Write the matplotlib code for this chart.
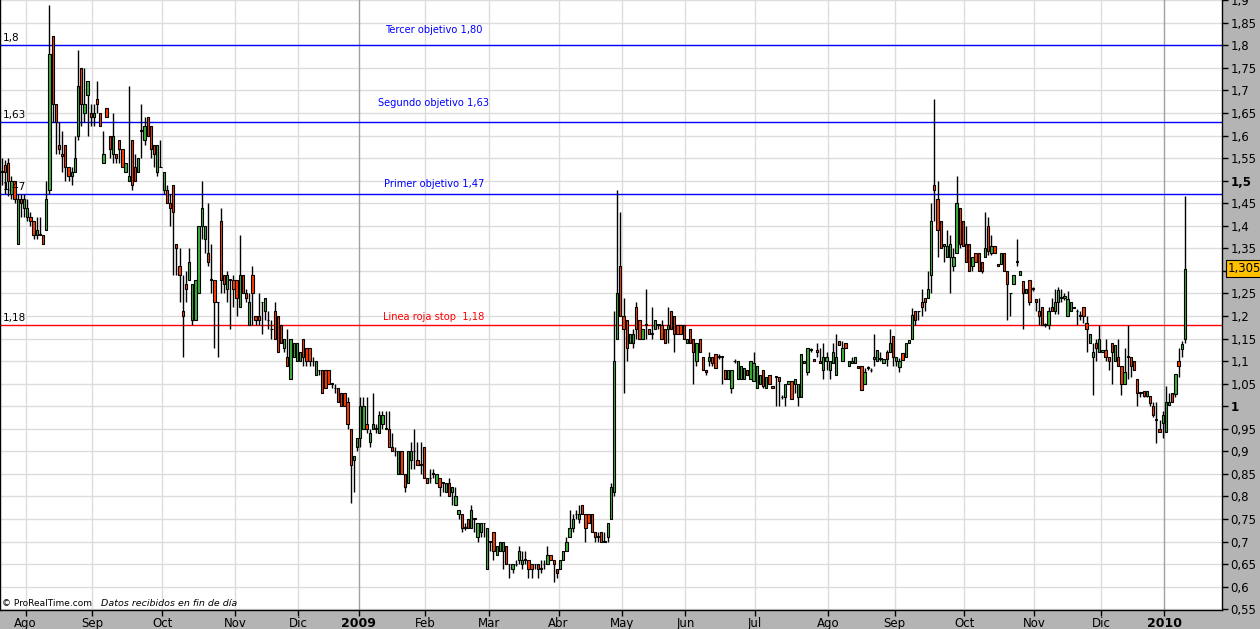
import matplotlib
matplotlib.use('Agg')
import matplotlib.pyplot as plt
import matplotlib.transforms as mtransforms
import numpy as np

# daily candles per month: (open, high, low, close)
jul08 = [(1.52, 1.55, 1.49, 1.52), (1.535, 1.545, 1.47, 1.52), (1.54, 1.55, 1.465, 1.50),
         (1.47, 1.51, 1.46, 1.50), (1.50, 1.50, 1.45, 1.46), (1.36, 1.47, 1.36, 1.46),
         (1.46, 1.47, 1.42, 1.45), (1.44, 1.47, 1.42, 1.46)]
ago08 = [(1.42, 1.46, 1.41, 1.44), (1.42, 1.43, 1.40, 1.41), (1.41, 1.41, 1.37, 1.38),
         (1.38, 1.42, 1.37, 1.39), (1.38, 1.42, 1.38, 1.38), (1.38, 1.38, 1.36, 1.36),
         (1.39, 1.50, 1.39, 1.46), (1.48, 1.89, 1.47, 1.78), (1.82, 1.82, 1.63, 1.67),
         (1.67, 1.67, 1.56, 1.63), (1.58, 1.63, 1.56, 1.57), (1.56, 1.61, 1.52, 1.555),
         (1.58, 1.58, 1.50, 1.53), (1.53, 1.53, 1.50, 1.51), (1.51, 1.53, 1.49, 1.52),
         (1.52, 1.60, 1.52, 1.55), (1.60, 1.79, 1.59, 1.71), (1.75, 1.75, 1.62, 1.67),
         (1.65, 1.75, 1.63, 1.67), (1.69, 1.72, 1.60, 1.72), (1.65, 1.67, 1.62, 1.64)]
sep08 = [(1.64, 1.67, 1.62, 1.65), (1.68, 1.72, 1.65, 1.67), (1.65, 1.65, 1.62, 1.62),
         (1.54, 1.61, 1.54, 1.56), (1.66, 1.66, 1.64, 1.64), (1.60, 1.60, 1.55, 1.57),
         (1.56, 1.65, 1.54, 1.60), (1.56, 1.56, 1.54, 1.55), (1.59, 1.59, 1.54, 1.57),
         (1.57, 1.57, 1.53, 1.53), (1.52, 1.54, 1.52, 1.54), (1.50, 1.71, 1.50, 1.51),
         (1.59, 1.59, 1.48, 1.49), (1.53, 1.56, 1.50, 1.50), (1.52, 1.55, 1.52, 1.55),
         (1.61, 1.67, 1.55, 1.61), (1.59, 1.64, 1.58, 1.62), (1.64, 1.64, 1.60, 1.60),
         (1.62, 1.62, 1.55, 1.57), (1.58, 1.58, 1.53, 1.56), (1.52, 1.58, 1.51, 1.58),
         (1.53, 1.59, 1.53, 1.53)]
oct08 = [(1.48, 1.52, 1.47, 1.52), (1.48, 1.49, 1.45, 1.45), (1.45, 1.47, 1.40, 1.44),
         (1.49, 1.49, 1.29, 1.43), (1.36, 1.36, 1.29, 1.35), (1.31, 1.35, 1.23, 1.29),
         (1.21, 1.29, 1.11, 1.20), (1.27, 1.30, 1.23, 1.26), (1.28, 1.35, 1.28, 1.32),
         (1.19, 1.27, 1.18, 1.27), (1.19, 1.28, 1.19, 1.28), (1.25, 1.40, 1.25, 1.40),
         (1.40, 1.50, 1.37, 1.44), (1.37, 1.40, 1.34, 1.40), (1.34, 1.45, 1.31, 1.32),
         (1.28, 1.36, 1.25, 1.28), (1.28, 1.28, 1.13, 1.23), (1.23, 1.23, 1.11, 1.23),
         (1.41, 1.44, 1.25, 1.28), (1.29, 1.29, 1.25, 1.27), (1.26, 1.30, 1.23, 1.29),
         (1.28, 1.28, 1.17, 1.28), (1.28, 1.29, 1.22, 1.26)]
nov08 = [(1.28, 1.28, 1.20, 1.24), (1.22, 1.38, 1.22, 1.29), (1.29, 1.29, 1.25, 1.25),
         (1.25, 1.26, 1.23, 1.24), (1.18, 1.25, 1.18, 1.23), (1.29, 1.31, 1.18, 1.25),
         (1.20, 1.20, 1.18, 1.19), (1.20, 1.25, 1.18, 1.19), (1.23, 1.23, 1.16, 1.23),
         (1.21, 1.24, 1.19, 1.24), (1.19, 1.21, 1.17, 1.19), (1.17, 1.19, 1.15, 1.17),
         (1.21, 1.23, 1.15, 1.15), (1.20, 1.20, 1.12, 1.12), (1.18, 1.18, 1.14, 1.14),
         (1.13, 1.15, 1.12, 1.15), (1.11, 1.17, 1.09, 1.09), (1.06, 1.15, 1.06, 1.15),
         (1.11, 1.14, 1.11, 1.14), (1.10, 1.14, 1.10, 1.14)]
dic08 = [(1.10, 1.12, 1.10, 1.12), (1.15, 1.15, 1.09, 1.11), (1.13, 1.13, 1.09, 1.10),
         (1.13, 1.13, 1.09, 1.10), (1.10, 1.11, 1.09, 1.10), (1.07, 1.10, 1.07, 1.10),
         (1.08, 1.08, 1.07, 1.08), (1.08, 1.08, 1.03, 1.03), (1.08, 1.08, 1.04, 1.04),
         (1.08, 1.08, 1.05, 1.05), (1.05, 1.05, 1.04, 1.05), (1.04, 1.05, 1.03, 1.04),
         (1.04, 1.04, 1.01, 1.01), (1.03, 1.03, 1.00, 1.00), (1.03, 1.03, 1.00, 1.00),
         (1.01, 1.02, 0.95, 0.96), (0.95, 0.95, 0.785, 0.87), (0.88, 0.89, 0.81, 0.89),
         (0.91, 0.93, 0.90, 0.93)]
ene09 = [(0.93, 1.02, 0.91, 1.00), (0.95, 1.02, 0.95, 1.00), (0.96, 1.02, 0.94, 0.95),
         (0.92, 0.95, 0.91, 0.94), (0.95, 1.03, 0.95, 0.96), (0.95, 0.96, 0.94, 0.95),
         (0.94, 0.99, 0.94, 0.98), (0.96, 0.99, 0.95, 0.98), (0.95, 0.99, 0.95, 0.95),
         (0.95, 0.99, 0.91, 0.91), (0.91, 0.94, 0.90, 0.90), (0.90, 0.91, 0.89, 0.90),
         (0.85, 0.90, 0.85, 0.90), (0.90, 0.90, 0.85, 0.85), (0.85, 0.85, 0.81, 0.82),
         (0.83, 0.90, 0.83, 0.90), (0.88, 0.92, 0.86, 0.90), (0.90, 0.95, 0.86, 0.90),
         (0.88, 0.92, 0.87, 0.87), (0.87, 0.92, 0.85, 0.87), (0.91, 0.91, 0.84, 0.84)]
feb09 = [(0.84, 0.84, 0.83, 0.83), (0.84, 0.86, 0.83, 0.84), (0.85, 0.86, 0.84, 0.85),
         (0.83, 0.85, 0.83, 0.85), (0.84, 0.84, 0.80, 0.82), (0.83, 0.83, 0.81, 0.83),
         (0.81, 0.83, 0.81, 0.83), (0.83, 0.84, 0.80, 0.80), (0.81, 0.82, 0.78, 0.82),
         (0.78, 0.82, 0.78, 0.80), (0.76, 0.77, 0.75, 0.77), (0.76, 0.76, 0.72, 0.73),
         (0.73, 0.74, 0.725, 0.73), (0.75, 0.75, 0.73, 0.73), (0.73, 0.78, 0.73, 0.77),
         (0.75, 0.75, 0.72, 0.75), (0.71, 0.74, 0.70, 0.74), (0.72, 0.74, 0.71, 0.74),
         (0.74, 0.74, 0.71, 0.74), (0.64, 0.73, 0.64, 0.73)]
mar09 = [(0.70, 0.70, 0.68, 0.70), (0.72, 0.72, 0.66, 0.68), (0.67, 0.69, 0.67, 0.69),
         (0.68, 0.70, 0.68, 0.70), (0.68, 0.70, 0.64, 0.70), (0.69, 0.69, 0.65, 0.65),
         (0.65, 0.65, 0.62, 0.65), (0.64, 0.65, 0.63, 0.65), (0.65, 0.66, 0.645, 0.65),
         (0.66, 0.69, 0.65, 0.68), (0.65, 0.68, 0.64, 0.66), (0.66, 0.68, 0.65, 0.66),
         (0.66, 0.66, 0.62, 0.64), (0.65, 0.65, 0.62, 0.64), (0.65, 0.65, 0.64, 0.65),
         (0.65, 0.65, 0.62, 0.64), (0.64, 0.66, 0.63, 0.64), (0.65, 0.66, 0.64, 0.65),
         (0.65, 0.69, 0.65, 0.67), (0.67, 0.67, 0.66, 0.66), (0.66, 0.66, 0.61, 0.65),
         (0.64, 0.64, 0.62, 0.63)]
abr09 = [(0.64, 0.66, 0.64, 0.66), (0.66, 0.68, 0.66, 0.68), (0.68, 0.71, 0.68, 0.70),
         (0.71, 0.77, 0.71, 0.73), (0.73, 0.76, 0.72, 0.75), (0.76, 0.77, 0.75, 0.76),
         (0.75, 0.78, 0.74, 0.76), (0.78, 0.78, 0.76, 0.76), (0.76, 0.76, 0.70, 0.73),
         (0.76, 0.76, 0.74, 0.74), (0.76, 0.76, 0.72, 0.72), (0.72, 0.72, 0.70, 0.71),
         (0.71, 0.72, 0.70, 0.71), (0.72, 0.72, 0.70, 0.70), (0.70, 0.72, 0.70, 0.70),
         (0.71, 0.74, 0.70, 0.74), (0.75, 0.83, 0.75, 0.82), (0.81, 1.21, 0.80, 1.10),
         (1.15, 1.48, 1.15, 1.25), (1.31, 1.43, 1.20, 1.20)]
may09 = [(1.20, 1.24, 1.03, 1.17), (1.19, 1.19, 1.10, 1.13), (1.14, 1.16, 1.14, 1.16),
         (1.14, 1.17, 1.13, 1.16), (1.22, 1.23, 1.15, 1.17), (1.19, 1.19, 1.15, 1.15),
         (1.15, 1.17, 1.15, 1.17), (1.18, 1.26, 1.15, 1.18), (1.17, 1.17, 1.16, 1.16),
         (1.16, 1.22, 1.15, 1.16), (1.17, 1.19, 1.17, 1.19), (1.18, 1.18, 1.17, 1.18),
         (1.18, 1.19, 1.15, 1.15), (1.17, 1.17, 1.14, 1.14), (1.17, 1.22, 1.14, 1.18),
         (1.21, 1.21, 1.17, 1.17), (1.20, 1.20, 1.12, 1.16), (1.18, 1.18, 1.16, 1.16),
         (1.18, 1.18, 1.16, 1.16), (1.18, 1.18, 1.15, 1.15)]
jun09 = [(1.14, 1.15, 1.14, 1.15), (1.17, 1.17, 1.14, 1.14), (1.15, 1.15, 1.05, 1.12),
         (1.10, 1.14, 1.09, 1.14), (1.15, 1.15, 1.12, 1.12), (1.11, 1.11, 1.08, 1.08),
         (1.08, 1.08, 1.07, 1.075), (1.10, 1.12, 1.09, 1.11), (1.11, 1.11, 1.09, 1.095),
         (1.115, 1.115, 1.085, 1.085), (1.11, 1.115, 1.105, 1.11), (1.11, 1.11, 1.05, 1.11),
         (1.08, 1.08, 1.06, 1.06), (1.06, 1.08, 1.06, 1.08), (1.04, 1.08, 1.03, 1.08),
         (1.10, 1.105, 1.095, 1.10), (1.06, 1.10, 1.06, 1.10), (1.06, 1.09, 1.06, 1.09),
         (1.06, 1.085, 1.06, 1.085), (1.08, 1.08, 1.07, 1.07), (1.06, 1.10, 1.06, 1.10),
         (1.055, 1.12, 1.055, 1.095)]
jul09 = [(1.04, 1.09, 1.04, 1.09), (1.05, 1.07, 1.05, 1.07), (1.08, 1.08, 1.04, 1.045),
         (1.04, 1.065, 1.04, 1.065), (1.07, 1.07, 1.05, 1.05), (1.045, 1.045, 1.04, 1.04),
         (1.065, 1.065, 1.00, 1.065), (1.065, 1.065, 1.00, 1.055), (1.02, 1.025, 1.015, 1.02),
         (1.02, 1.05, 1.00, 1.05), (1.05, 1.055, 1.05, 1.055), (1.055, 1.055, 1.015, 1.015),
         (1.05, 1.06, 1.03, 1.06), (1.02, 1.05, 1.00, 1.05), (1.02, 1.115, 1.02, 1.115),
         (1.10, 1.10, 1.095, 1.095), (1.075, 1.13, 1.07, 1.13), (1.125, 1.13, 1.12, 1.125),
         (1.105, 1.105, 1.10, 1.10), (1.125, 1.14, 1.11, 1.12), (1.10, 1.13, 1.095, 1.095),
         (1.08, 1.14, 1.06, 1.11), (1.10, 1.12, 1.08, 1.11)]
ago09 = [(1.08, 1.10, 1.06, 1.10), (1.095, 1.14, 1.095, 1.12), (1.07, 1.16, 1.07, 1.11),
         (1.145, 1.145, 1.135, 1.135), (1.10, 1.145, 1.10, 1.13), (1.14, 1.14, 1.13, 1.13),
         (1.09, 1.10, 1.09, 1.10), (1.095, 1.11, 1.095, 1.10), (1.095, 1.11, 1.095, 1.11),
         (1.09, 1.09, 1.085, 1.085), (1.09, 1.09, 1.035, 1.035), (1.05, 1.085, 1.05, 1.075),
         (1.085, 1.09, 1.08, 1.085), (1.08, 1.085, 1.075, 1.08), (1.105, 1.16, 1.09, 1.11),
         (1.10, 1.125, 1.10, 1.125), (1.105, 1.12, 1.10, 1.105), (1.095, 1.105, 1.095, 1.105),
         (1.12, 1.125, 1.09, 1.105), (1.12, 1.17, 1.12, 1.14), (1.155, 1.155, 1.09, 1.11)]
sep09 = [(1.10, 1.11, 1.09, 1.11), (1.086, 1.107, 1.076, 1.10), (1.118, 1.118, 1.103, 1.103),
         (1.11, 1.14, 1.11, 1.14), (1.14, 1.147, 1.14, 1.147), (1.15, 1.218, 1.15, 1.203),
         (1.21, 1.21, 1.18, 1.19), (1.21, 1.21, 1.19, 1.21), (1.23, 1.26, 1.20, 1.22),
         (1.24, 1.24, 1.21, 1.23), (1.24, 1.30, 1.24, 1.26), (1.29, 1.45, 1.25, 1.41),
         (1.49, 1.68, 1.41, 1.48), (1.46, 1.50, 1.33, 1.39), (1.41, 1.41, 1.35, 1.35),
         (1.355, 1.36, 1.32, 1.36), (1.33, 1.39, 1.33, 1.355), (1.33, 1.38, 1.25, 1.36),
         (1.31, 1.35, 1.30, 1.33), (1.34, 1.51, 1.34, 1.45), (1.44, 1.44, 1.35, 1.36),
         (1.41, 1.41, 1.355, 1.355)]
oct09 = [(1.36, 1.40, 1.32, 1.32), (1.36, 1.36, 1.30, 1.30), (1.31, 1.33, 1.30, 1.33),
         (1.34, 1.34, 1.32, 1.32), (1.34, 1.34, 1.30, 1.30), (1.32, 1.32, 1.295, 1.30),
         (1.33, 1.43, 1.33, 1.35), (1.40, 1.42, 1.335, 1.345), (1.34, 1.38, 1.335, 1.355),
         (1.355, 1.355, 1.34, 1.34), (1.315, 1.315, 1.31, 1.31), (1.315, 1.34, 1.315, 1.34),
         (1.34, 1.34, 1.30, 1.30), (1.30, 1.30, 1.19, 1.27), (1.25, 1.25, 1.20, 1.25),
         (1.27, 1.29, 1.27, 1.29), (1.32, 1.37, 1.31, 1.32), (1.29, 1.30, 1.29, 1.30),
         (1.277, 1.277, 1.17, 1.25), (1.25, 1.26, 1.25, 1.26), (1.28, 1.28, 1.225, 1.23),
         (1.26, 1.265, 1.255, 1.26)]
nov09 = [(1.237, 1.237, 1.21, 1.23), (1.21, 1.24, 1.18, 1.20), (1.22, 1.22, 1.18, 1.18),
         (1.18, 1.185, 1.175, 1.18), (1.18, 1.22, 1.17, 1.21), (1.22, 1.24, 1.21, 1.21),
         (1.21, 1.26, 1.205, 1.23), (1.23, 1.265, 1.205, 1.257), (1.24, 1.26, 1.23, 1.24),
         (1.24, 1.25, 1.235, 1.245), (1.20, 1.255, 1.20, 1.237), (1.21, 1.23, 1.21, 1.23),
         (1.22, 1.22, 1.217, 1.217), (1.21, 1.215, 1.18, 1.21), (1.20, 1.21, 1.19, 1.20),
         (1.22, 1.22, 1.185, 1.20), (1.185, 1.20, 1.12, 1.17), (1.14, 1.16, 1.14, 1.16),
         (1.11, 1.14, 1.025, 1.12), (1.14, 1.15, 1.10, 1.13), (1.12, 1.18, 1.12, 1.15)]
dic09 = [(1.12, 1.125, 1.12, 1.125), (1.125, 1.15, 1.10, 1.11), (1.11, 1.11, 1.08, 1.10),
         (1.14, 1.14, 1.05, 1.12), (1.10, 1.135, 1.10, 1.135), (1.11, 1.15, 1.09, 1.09),
         (1.09, 1.09, 1.025, 1.05), (1.05, 1.13, 1.05, 1.075), (1.11, 1.18, 1.06, 1.11),
         (1.11, 1.11, 1.065, 1.09), (1.10, 1.10, 1.08, 1.08), (1.06, 1.06, 1.00, 1.03),
         (1.03, 1.03, 1.02, 1.03), (1.033, 1.033, 1.02, 1.023), (1.023, 1.033, 1.02, 1.033),
         (1.023, 1.023, 1.00, 1.006), (1.00, 1.01, 0.975, 0.98), (0.97, 1.01, 0.918, 0.97),
         (0.95, 0.97, 0.943, 0.943), (0.963, 0.99, 0.93, 0.98)]
ene10 = [(0.943, 1.045, 0.943, 1.01), (1.003, 1.03, 1.003, 1.01), (1.03, 1.03, 1.01, 1.01),
         (1.028, 1.072, 1.02, 1.072), (1.10, 1.13, 1.065, 1.09), (1.127, 1.145, 1.11, 1.138),
         (1.15, 1.465, 1.14, 1.305)]

months = [jul08, ago08, sep08, oct08, nov08, dic08, ene09, feb09, mar09, abr09,
          may09, jun09, jul09, ago09, sep09, oct09, nov09, dic09, ene10]
month_labels = ['', 'Ago', 'Sep', 'Oct', 'Nov', 'Dic', '2009', 'Feb', 'Mar', 'Abr',
                'May', 'Jun', 'Jul', 'Ago', 'Sep', 'Oct', 'Nov', 'Dic', '2010']

levels = [1.80, 1.63, 1.47, 1.18]
level_colors = ['#0000ff', '#0000ff', '#0000ff', '#ff0000']
level_short = ['1,8', '1,63', '1,47', '1,18']
level_texts = ['Tercer objetivo 1,80', 'Segundo objetivo 1,63',
               'Primer objetivo 1,47', 'Linea roja stop  1,18']
last_price = 1.305

# ---------------------------------------------------------------------------
ohlc = np.array([c for m in months for c in m])
o, h, l, c = ohlc.T
x = np.arange(len(ohlc))
starts = np.cumsum([0] + [len(m) for m in months[:-1]])

fig = plt.figure(figsize=(12.6, 6.29), dpi=100, facecolor='#b4b4b4')
ax = fig.add_axes([0.0, 19 / 629, 1222 / 1260, 610 / 629])
ax.set_facecolor('white')

# grid
yt = np.round(np.arange(0.55, 1.901, 0.05), 2)
for v in yt:
    ax.axhline(v, color='#dcdcdc', lw=1, zorder=0)
for s, lab in zip(starts[1:], month_labels[1:]):
    col = '#a0a0a0' if lab.isdigit() else '#dcdcdc'
    ax.axvline(s - 0.5, color=col, lw=1, zorder=0)

# objective lines
trans = mtransforms.blended_transform_factory(ax.transAxes, ax.transData)
for lv, col, sh, txt, dy in zip(levels, level_colors, level_short, level_texts, [15, 19, 10, 8]):
    ax.axhline(lv, color=col, lw=1, zorder=1)
    ax.annotate(sh, xy=(0.002, lv), xycoords=trans, xytext=(0, 7), textcoords='offset pixels',
                ha='left', va='center', fontsize=7.5, color='black', zorder=5)
    ax.annotate(txt, xy=(0.355, lv), xycoords=trans, xytext=(0, dy), textcoords='offset pixels',
                ha='center', va='center', fontsize=7.1, color=col, zorder=5)

# candles
up = c >= o
colors = np.where(up, '#3cb43c', '#ff3c00')
body_lo = np.minimum(o, c)
body_h = np.maximum(np.abs(c - o), 0.0012)
ax.vlines(x, l, h, color='black', lw=1, zorder=2)
ax.bar(x, body_h, bottom=body_lo, width=0.72, color=colors, edgecolor='black',
       linewidth=0.8, zorder=3)

ax.set_xlim(-0.6, 384.7)
ax.set_ylim(0.5482, 1.9004)

# axes / ticks
for side in ['left', 'right', 'bottom']:
    ax.spines[side].set_color('black')
    ax.spines[side].set_linewidth(1)
ax.spines['top'].set_visible(False)

ax.yaxis.tick_right()
ax.set_yticks(yt)
# the price tag hides the 1,3 label
ylabels = ['' if abs(v - 1.3) < 1e-9 else f'{v:.2f}'.rstrip('0').rstrip('.').replace('.', ',')
           for v in yt]
ax.set_yticklabels(ylabels)
ax.tick_params(axis='y', direction='out', length=4, width=1, pad=2, labelsize=8.5, colors='black')
for t, v in zip(ax.get_yticklabels(), yt):
    if v in (1.0, 1.5):
        t.set_fontweight('bold')

ax.set_xticks(starts[1:] - 0.5)
ax.set_xticklabels(month_labels[1:])
ax.tick_params(axis='x', direction='out', length=4, width=1, pad=1, labelsize=8.5, colors='black')
for t, lab in zip(ax.get_xticklabels(), month_labels[1:]):
    if lab.isdigit():
        t.set_fontweight('bold')
        t.set_fontsize(9)

# last price tag
ax.annotate(f'{last_price:.3f}'.replace('.', ','), xy=(1, last_price), xycoords=trans,
            xytext=(6, 0), textcoords='offset pixels', ha='left', va='center', fontsize=8.5,
            bbox=dict(boxstyle='square,pad=0.15', fc='#ffc000', ec='black', lw=0.8),
            annotation_clip=False, zorder=6)

# watermark
ax.text(0.002, 0.011, '\u00a9 ProRealTime.com', transform=ax.transAxes, fontsize=6.5,
        ha='left', va='center', color='black')
ax.text(101 / 1222, 0.011, 'Datos recibidos en fin de d\u00eda', transform=ax.transAxes,
        fontsize=6.8, style='italic', ha='left', va='center', color='black')

fig.savefig('out.png', dpi=100, facecolor=fig.get_facecolor())
